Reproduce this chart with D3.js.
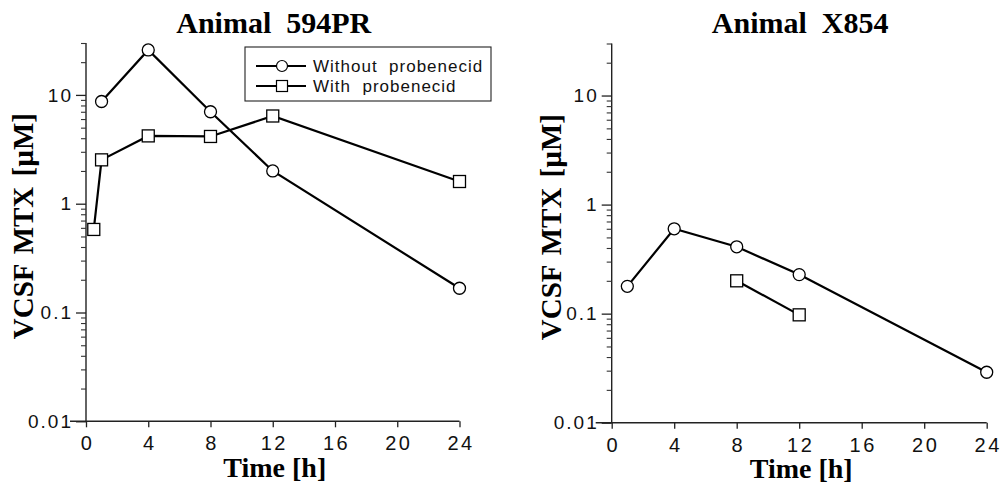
<!DOCTYPE html>
<html>
<head>
<meta charset="utf-8">
<script src="https://cdn.jsdelivr.net/npm/d3@7"></script>
<style>
  html, body { margin: 0; padding: 0; background: #fff; }
  svg { display: block; }
</style>
</head>
<body>
<svg id="chart" width="1002" height="483"></svg>
<script>
// ---------- data ----------
const panelTitles = ["Animal  594PR", "Animal  X854"];
const seriesNames = ["Without  probenecid", "With  probenecid"];

const hours594Without = [1, 4, 8, 12, 24];
const values594Without = [8.7, 25.9, 7.0, 2.0, 0.167];
const hours594With = [0.5, 1, 4, 8, 12, 24];
const values594With = [0.58, 2.53, 4.2, 4.15, 6.4, 1.6];

const hoursX854Without = [1, 4, 8, 12, 24];
const valuesX854Without = [0.178, 0.6, 0.41, 0.228, 0.029];
const hoursX854With = [8, 12];
const valuesX854With = [0.2, 0.0975];

const xTicks = [0, 4, 8, 12, 16, 20, 24];
const yTicks = [0.01, 0.1, 1, 10];
const yTickLabels = ["0.01", "0.1", "1", "10"];
const xLabel = "Time [h]";
const yLabel = "VCSF MTX [\u00B5M]";

// ---------- drawing ----------
const svg = d3.select("#chart");
const SANS = "'Liberation Sans', Arial, Helvetica, sans-serif";
const SERIF = "'Liberation Serif', 'Times New Roman', serif";

const panels = [
  { x0: 86, x1: 459.5, yTop: 43, yBot: 421.3, titleY: 33, yLabX: 33, xLabY: 477,
    without: [hours594Without, values594Without], with: [hours594With, values594With], legend: true },
  { x0: 611.7, x1: 986.7, yTop: 43.5, yBot: 422.7, titleY: 33, yLabX: 561, xLabY: 478,
    without: [hoursX854Without, valuesX854Without], with: [hoursX854With, valuesX854With], legend: false }
];

function toPoints(pair) { return pair[0].map((h, i) => ({ h: h, v: pair[1][i] })); }

panels.forEach((p, pi) => {
  const x = d3.scaleLinear().domain([0, 24]).range([p.x0, p.x1]);
  const y = d3.scaleLog().domain([0.01, 30]).range([p.yBot, p.yTop]);
  const g = svg.append("g");

  // title
  g.append("text")
    .attr("x", (p.x0 + p.x1) / 2 + 1).attr("y", p.titleY)
    .attr("text-anchor", "middle")
    .style("font-family", SERIF).style("font-weight", "bold").style("font-size", "30px")
    .style("white-space", "pre")
    .text(panelTitles[pi]);

  // y axis (major)
  const yAxis = d3.axisLeft(y)
    .tickValues(yTicks)
    .tickFormat((d, i) => yTickLabels[i])
    .tickSize(10).tickPadding(3);
  const ya = g.append("g").attr("transform", `translate(${p.x0},0)`).call(yAxis);
  ya.select(".domain").attr("d", `M0,${p.yTop}V${p.yBot}`).attr("stroke", "#222").attr("stroke-width", 1.4);
  ya.selectAll(".tick line").attr("stroke", "#222").attr("stroke-width", 1.3);
  ya.selectAll(".tick text")
    .style("font-family", SANS).style("font-size", "19px").style("letter-spacing", "2px")
    .attr("fill", "#111");

  // y minor ticks
  const minor = [];
  [0.01, 0.1, 1].forEach(dec => { for (let k = 2; k <= 9; k++) minor.push(dec * k); });
  minor.push(20, 30);
  const yMinor = d3.axisLeft(y).tickValues(minor).tickFormat("").tickSize(5);
  const ym = g.append("g").attr("transform", `translate(${p.x0},0)`).call(yMinor);
  ym.select(".domain").remove();
  ym.selectAll(".tick line").attr("stroke", "#333").attr("stroke-width", 1.1);

  // x axis
  const xAxis = d3.axisBottom(x).tickValues(xTicks).tickSize(6).tickPadding(9);
  const xa = g.append("g").attr("transform", `translate(0,${p.yBot})`).call(xAxis);
  xa.select(".domain").attr("d", `M${p.x0 - 16},0H${p.x1}`).attr("stroke", "#222").attr("stroke-width", 1.4);
  xa.selectAll(".tick line").attr("stroke", "#222").attr("stroke-width", 1.3);
  xa.selectAll(".tick text")
    .style("font-family", SANS).style("font-size", "20px").style("letter-spacing", "2.5px")
    .attr("dx", "1px").attr("fill", "#111");

  // axis labels
  g.append("text")
    .attr("x", (p.x0 + p.x1) / 2 + 2).attr("y", p.xLabY)
    .attr("text-anchor", "middle")
    .style("font-family", SERIF).style("font-weight", "bold").style("font-size", "28px")
    .text(xLabel);
  g.append("text")
    .attr("transform", `translate(${p.yLabX},${(p.yTop + p.yBot) / 2 - 6}) rotate(-90)`)
    .attr("text-anchor", "middle")
    .style("font-family", SERIF).style("font-weight", "bold").style("font-size", "29px")
    .style("word-spacing", "3px")
    .text(yLabel);

  const line = d3.line().x(d => x(d.h)).y(d => y(d.v));

  [[p.without, "circle"], [p.with, "square"]].forEach(([pair, shape]) => {
    const pts = toPoints(pair);
    g.append("path").datum(pts).attr("d", line)
      .attr("fill", "none").attr("stroke", "#000").attr("stroke-width", 2.2);
    if (shape === "circle") {
      g.selectAll(null).data(pts).enter().append("circle")
        .attr("cx", d => x(d.h)).attr("cy", d => y(d.v)).attr("r", 6)
        .attr("fill", "#fff").attr("stroke", "#000").attr("stroke-width", 1.3);
    } else {
      g.selectAll(null).data(pts).enter().append("rect")
        .attr("x", d => x(d.h) - 6).attr("y", d => y(d.v) - 6)
        .attr("width", 12).attr("height", 12)
        .attr("fill", "#fff").attr("stroke", "#000").attr("stroke-width", 1.3);
    }
  });

  if (p.legend) {
    const lg = g.append("g");
    lg.append("rect").attr("x", 245).attr("y", 47).attr("width", 246).attr("height", 54)
      .attr("fill", "#fff").attr("stroke", "#222").attr("stroke-width", 1.1);
    const rows = [{ y: 66, shape: "circle" }, { y: 86, shape: "square" }];
    rows.forEach((r, i) => {
      lg.append("line").attr("x1", 256).attr("x2", 306).attr("y1", r.y).attr("y2", r.y)
        .attr("stroke", "#000").attr("stroke-width", 1.8);
      if (r.shape === "circle") {
        lg.append("circle").attr("cx", 282).attr("cy", r.y).attr("r", 5.5)
          .attr("fill", "#fff").attr("stroke", "#000").attr("stroke-width", 1.2);
      } else {
        lg.append("rect").attr("x", 276.5).attr("y", r.y - 5.5).attr("width", 11).attr("height", 11)
          .attr("fill", "#fff").attr("stroke", "#000").attr("stroke-width", 1.2);
      }
      lg.append("text").attr("x", 313).attr("y", r.y + 6)
        .style("font-family", SANS).style("font-size", "17px").style("letter-spacing", "1px")
        .style("white-space", "pre").attr("fill", "#111")
        .text(seriesNames[i]);
    });
  }
});
</script>
</body>
</html>
